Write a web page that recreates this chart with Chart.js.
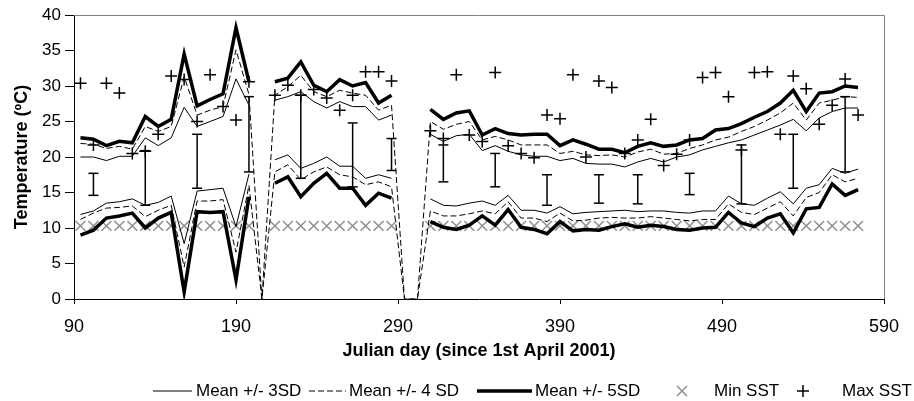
<!DOCTYPE html>
<html><head><meta charset="utf-8">
<script src="https://cdn.jsdelivr.net/npm/chart.js@4.4.1/dist/chart.umd.min.js"></script>
<style>html,body{margin:0;padding:0;background:#fff}canvas{display:block}</style>
</head><body>
<canvas id="c" width="914" height="401" style="width:914px;height:401px"></canvas>
<script>
// ---- data ----
const days = [94,102,110,118,126,134,142,150,158,166,174,182,190,198,206,214,222,230,238,246,254,262,270,278,286,294,302,310,318,326,334,342,350,358,366,374,382,390,398,406,414,422,430,438,446,454,462,470,478,486,494,502,510,518,526,534,542,550,558,566,574];

const upper3 = [20.0,20.0,19.5,20.1,20.1,22.7,21.6,22.7,27.0,24.3,25.0,25.7,31.0,27.3,null,28.0,28.5,29.2,27.8,26.9,27.8,27.1,27.1,25.2,25.9,null,null,23.2,22.2,23.0,23.2,20.9,21.6,20.8,20.3,20.1,20.1,19.5,19.8,19.1,19.0,19.0,18.6,19.3,19.8,19.3,20.0,20.3,21.0,21.5,22.0,22.4,23.1,23.8,24.5,25.3,23.7,25.5,26.4,26.9,26.9];
const lower3 = [11.9,12.4,13.5,13.7,14.1,13.2,13.6,14.5,7.8,15.2,15.4,15.6,10.2,17.6,null,19.6,20.3,18.4,19.1,20.0,18.7,18.7,17.0,17.5,17.0,null,null,14.1,13.2,13.1,13.5,13.8,13.2,14.6,12.5,12.5,12.1,13.0,12.0,12.2,12.3,12.4,12.5,12.3,12.4,12.4,12.2,12.1,12.4,12.4,14.5,13.4,13.2,14.2,15.1,13.4,15.6,16.1,18.4,17.7,18.3];
const upper4 = [21.9,21.8,21.2,21.5,21.1,24.3,23.6,24.3,31.3,25.9,26.6,27.1,35.1,28.8,0,28.7,29.9,31.5,29.2,28.5,29.4,29.0,28.7,26.6,27.3,0,0,25.0,23.9,24.6,25.0,22.4,22.9,22.4,21.7,21.7,21.7,20.5,20.8,20.3,20.2,20.3,20.0,20.7,21.1,20.4,20.5,21.2,21.7,22.4,22.8,23.6,24.3,25.2,26.2,27.6,25.2,27.6,28.0,28.5,28.4];
const lower4 = [11.2,12.1,12.8,12.9,13.1,11.6,12.5,13.2,4.5,13.8,13.8,14.0,6.6,16.0,0,17.9,18.9,16.8,17.9,18.6,17.5,17.2,16.1,16.5,15.8,0,0,12.4,11.7,11.7,12.0,12.4,12.0,13.7,11.4,11.4,10.9,12.1,11.0,11.1,11.4,11.5,11.4,11.4,11.6,11.4,11.2,11.0,11.2,11.2,13.4,12.2,11.9,12.8,13.7,11.7,14.3,15.0,17.5,16.5,17.0];
const upper5 = [22.7,22.5,21.6,22.2,22.0,25.7,24.3,25.3,34.5,27.2,28.1,28.9,38.2,30.6,null,30.6,31.1,33.4,30.1,29.2,30.9,30.0,30.5,27.6,28.7,null,null,26.7,25.3,26.2,26.5,23.1,24.0,23.3,23.1,23.2,23.2,21.6,22.4,21.8,21.1,21.1,20.6,21.5,22.0,21.5,21.7,22.4,22.6,23.8,24.0,24.7,25.6,26.4,27.6,29.4,26.4,29.0,29.2,30.0,29.8];
const lower5 = [9.0,9.7,11.4,11.7,12.1,10.0,11.4,12.2,1.0,12.3,12.2,12.3,2.7,14.4,null,16.3,17.2,14.4,16.3,17.7,15.6,15.6,13.2,14.9,14.2,null,null,10.9,10.1,9.8,10.4,11.7,10.4,12.6,10.1,9.8,9.2,10.9,9.6,9.8,9.7,10.2,10.6,10.1,10.4,10.2,9.8,9.7,10.0,10.1,12.2,10.7,10.2,11.4,12.0,9.3,12.7,12.9,16.2,14.6,15.4];
const minSST = [10.3,10.3,10.3,10.3,10.3,10.3,10.3,10.3,10.3,10.3,10.3,10.3,10.3,10.3,null,10.3,10.3,10.3,10.3,10.3,10.3,10.3,10.3,10.3,10.3,null,null,10.3,10.3,10.3,10.3,10.3,10.3,10.3,10.3,10.3,10.3,10.3,10.3,10.3,10.3,10.3,10.3,10.3,10.3,10.3,10.3,10.3,10.3,10.3,10.3,10.3,10.3,10.3,10.3,10.3,10.3,10.3,10.3,10.3,10.3];
const maxSST = [30.4,21.7,30.4,29.0,20.5,20.8,23.2,31.4,30.9,25.0,31.6,27.1,25.2,30.6,null,28.7,30.1,28.7,29.5,28.3,26.6,28.7,32.0,32.0,30.7,null,null,23.7,22.6,31.6,23.1,22.2,31.9,21.6,20.5,19.9,25.9,25.4,31.6,20.0,30.7,29.8,20.5,22.4,25.3,18.8,20.4,22.4,31.2,31.9,28.5,21.0,31.9,32.0,23.2,31.4,29.6,24.6,27.3,31.0,25.9];

const errDays = [102,134,166,198,230,262,286,318,350,382,414,438,470,502,534,566];
const errLow  = [14.6,13.2,15.6,17.9,17.0,15.8,18.1,16.5,15.8,13.2,13.5,13.4,14.7,13.4,15.6,17.9];
const errHigh = [17.7,20.9,23.2,28.5,28.7,24.8,22.6,21.7,20.5,17.5,17.5,17.5,17.7,21.7,23.2,28.5];

const xTicks = [90,190,290,390,490,590];
const yTicks = [0,5,10,15,20,25,30,35,40];

const legendLabels = ['Mean +/- 3SD','Mean +/- 4 SD','Mean +/- 5SD','Min SST','Max SST'];
const xTitle = 'Julian day (since 1st April 2001)';
const yTitle = 'Temperature (ºC)';

// ---- build ----
const pts = (vals) => days.map((d, i) => ({x: d, y: vals[i]}));
const errPts = [];
errDays.forEach((d, i) => { errPts.push({x: d, y: errLow[i]}, {x: d, y: errHigh[i]}, {x: d, y: null}); });

const FONT = "'Liberation Sans', Arial, sans-serif";
Chart.defaults.font.family = FONT;
Chart.defaults.color = '#000';

const lineDs = (vals, w, dash) => ({
  data: pts(vals), showLine: true, borderColor: '#000', borderWidth: w, borderDash: dash,
  pointRadius: 0, spanGaps: false, fill: false, borderJoinStyle: 'miter', tension: 0
});

const frame = {
  id: 'frame',
  beforeDatasetsDraw(chart) {
    const {ctx, chartArea: a} = chart;
    ctx.save();
    ctx.strokeStyle = '#808080'; ctx.lineWidth = 1;
    ctx.beginPath();
    ctx.moveTo(a.left, a.top + 0.5); ctx.lineTo(a.right + 0.5, a.top + 0.5); ctx.lineTo(a.right + 0.5, a.bottom);
    ctx.stroke();
    ctx.restore();
  }
};

const legendCfg = [
  {kind: 'line', w: 1, dash: [], x1: 153, x2: 192, tx: 196},
  {kind: 'line', w: 1, dash: [6, 3], x1: 309, x2: 346, tx: 349},
  {kind: 'line', w: 3.5, dash: [], x1: 477, x2: 532, tx: 535},
  {kind: 'pt', style: 'crossRot', color: '#8f8f8f', r: 7, cx: 682, tx: 714},
  {kind: 'pt', style: 'cross', color: '#000', r: 6, cx: 803, tx: 842}
];
const legendY = 391;
const customLegend = {
  id: 'customLegend',
  afterDraw(chart) {
    const ctx = chart.ctx;
    ctx.save();
    ctx.font = "17px " + FONT;
    ctx.textBaseline = 'middle';
    ctx.textAlign = 'left';
    legendCfg.forEach((it, i) => {
      if (it.kind === 'line') {
        ctx.strokeStyle = '#000'; ctx.lineWidth = it.w; ctx.setLineDash(it.dash);
        ctx.beginPath(); ctx.moveTo(it.x1, legendY); ctx.lineTo(it.x2, legendY); ctx.stroke();
        ctx.setLineDash([]);
      } else {
        ctx.strokeStyle = it.color; ctx.lineWidth = 1.5;
        Chart.helpers.drawPoint(ctx, {pointStyle: it.style, radius: it.r, borderWidth: 1.5, rotation: 0}, it.cx, legendY);
      }
      ctx.fillStyle = '#000';
      ctx.fillText(legendLabels[i], it.tx, legendY);
    });
    ctx.restore();
  }
};

new Chart(document.getElementById('c'), {
  type: 'scatter',
  data: {
    datasets: [
      {data: errPts, showLine: true, spanGaps: false, borderColor: '#000', borderWidth: 1.5,
       pointStyle: 'line', pointRadius: 5, pointBorderWidth: 1.5, pointBorderColor: '#000', pointBackgroundColor: '#000'},
      {data: pts(maxSST), showLine: false, pointStyle: 'cross', pointRadius: 6, pointBorderWidth: 1.5, pointBorderColor: '#000'},
      lineDs(upper5, 3.5, []), lineDs(lower5, 3.5, []),
      lineDs(upper4, 1, [6, 3]), lineDs(lower4, 1, [6, 3]),
      lineDs(upper3, 1, []), lineDs(lower3, 1, []),
      {data: pts(minSST), showLine: false, pointStyle: 'crossRot', pointRadius: 7, pointBorderWidth: 1.5, pointBorderColor: '#8f8f8f'}
    ]
  },
  options: {
    responsive: false, animation: false, devicePixelRatio: 1, events: [],
    layout: {padding: {left: 0, top: 15, right: 30, bottom: 30}},
    plugins: {legend: {display: false}, tooltip: {enabled: false}},
    scales: {
      x: {
        type: 'linear', min: 90, max: 590,
        afterBuildTicks: (s) => { s.ticks = xTicks.map(v => ({value: v})); },
        afterFit: (s) => { s.height = 72; },
        ticks: {font: {size: 18}, padding: 12, color: '#000', maxRotation: 0, autoSkip: false},
        grid: {drawOnChartArea: false, drawTicks: true, tickLength: 5, color: '#000'},
        border: {display: true, color: '#000', width: 1},
        title: {display: true, text: xTitle, font: {size: 18, weight: 'bold'}, color: '#000', padding: {top: 0, bottom: 9}}
      },
      y: {
        type: 'linear', min: 0, max: 40,
        afterBuildTicks: (s) => { s.ticks = yTicks.map(v => ({value: v})); },
        afterFit: (s) => { s.width = 74; },
        ticks: {font: {size: 17}, padding: 4, color: '#000', autoSkip: false},
        grid: {drawOnChartArea: false, drawTicks: true, tickLength: 9, color: '#000'},
        border: {display: true, color: '#000', width: 1},
        title: {display: true, text: yTitle, font: {size: 18, weight: 'bold'}, color: '#000', padding: {top: 11, bottom: 0}}
      }
    }
  },
  plugins: [frame, customLegend]
});
</script>
</body></html>
